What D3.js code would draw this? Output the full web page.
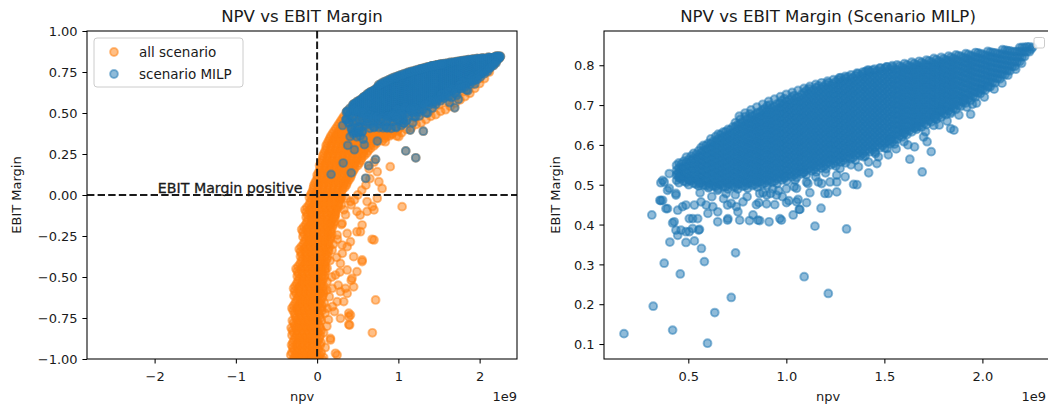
<!DOCTYPE html>
<html>
<head>
<meta charset="utf-8">
<script src="https://cdn.jsdelivr.net/npm/d3@7"></script>
<style>
  body { margin: 0; background: #fff; }
  svg { display: block; }
  text { font-family: "DejaVu Sans", sans-serif; fill: #1a1a1a; }
</style>
</head>
<body>
<svg id="chart" width="1048" height="408"></svg>
<script>
// NPV is stored in units of 1e9; EBIT margin as a fraction.

// MILP scenarios, dense core: [npv, [margins...]]
const milpCloud = [
  [0.44,[0.511,0.524,0.536,0.549]],
  [0.465,[0.515,0.527,0.540,0.552]],
  [0.49,[0.506,0.519,0.531,0.544,0.556,0.569]],
  [0.515,[0.510,0.522,0.535,0.547,0.560,0.572]],
  [0.54,[0.501,0.514,0.526,0.539,0.551,0.564,0.576]],
  [0.565,[0.505,0.518,0.530,0.543,0.555,0.568,0.580,0.593]],
  [0.59,[0.498,0.511,0.523,0.536,0.548,0.561,0.573,0.586,0.598]],
  [0.615,[0.503,0.516,0.528,0.541,0.553,0.566,0.578,0.591,0.603,0.615]],
  [0.64,[0.496,0.508,0.521,0.533,0.546,0.558,0.571,0.583,0.596,0.608,0.621]],
  [0.665,[0.501,0.513,0.526,0.538,0.551,0.563,0.576,0.588,0.601,0.613,0.626]],
  [0.69,[0.495,0.508,0.520,0.533,0.545,0.558,0.570,0.583,0.595,0.608,0.620,0.633]],
  [0.715,[0.501,0.513,0.526,0.538,0.551,0.563,0.576,0.588,0.601,0.613,0.626,0.638]],
  [0.74,[0.495,0.508,0.520,0.533,0.545,0.558,0.570,0.583,0.595,0.608,0.620,0.633,0.645,0.656]],
  [0.765,[0.502,0.514,0.527,0.539,0.552,0.564,0.577,0.589,0.602,0.614,0.627,0.639,0.652,0.664]],
  [0.79,[0.497,0.509,0.522,0.534,0.547,0.559,0.572,0.584,0.597,0.609,0.622,0.634,0.647,0.659,0.671]],
  [0.815,[0.504,0.516,0.529,0.541,0.554,0.566,0.579,0.591,0.604,0.616,0.629,0.641,0.654,0.666,0.678]],
  [0.84,[0.500,0.512,0.525,0.537,0.550,0.562,0.575,0.587,0.600,0.612,0.625,0.637,0.650,0.662,0.675]],
  [0.865,[0.507,0.520,0.532,0.545,0.557,0.570,0.582,0.595,0.607,0.620,0.632,0.645,0.657,0.670,0.682]],
  [0.89,[0.504,0.516,0.529,0.541,0.554,0.566,0.579,0.591,0.604,0.616,0.629,0.641,0.654,0.666,0.679,0.691]],
  [0.915,[0.512,0.525,0.537,0.550,0.562,0.575,0.587,0.600,0.612,0.625,0.637,0.650,0.662,0.675,0.687,0.700]],
  [0.94,[0.509,0.521,0.534,0.546,0.559,0.571,0.584,0.596,0.609,0.621,0.634,0.646,0.659,0.671,0.684,0.696]],
  [0.965,[0.518,0.530,0.543,0.555,0.568,0.580,0.593,0.605,0.618,0.630,0.643,0.655,0.668,0.680,0.693,0.705]],
  [0.99,[0.516,0.528,0.541,0.553,0.566,0.578,0.591,0.603,0.616,0.628,0.641,0.653,0.666,0.678,0.691,0.703,0.716]],
  [1.015,[0.526,0.538,0.551,0.563,0.576,0.588,0.601,0.613,0.626,0.638,0.651,0.663,0.676,0.688,0.701,0.713]],
  [1.04,[0.524,0.536,0.549,0.561,0.574,0.586,0.599,0.611,0.624,0.636,0.649,0.661,0.674,0.686,0.699,0.711,0.724]],
  [1.065,[0.533,0.545,0.558,0.570,0.583,0.595,0.608,0.620,0.633,0.645,0.658,0.670,0.683,0.695,0.708,0.720]],
  [1.09,[0.531,0.543,0.556,0.568,0.581,0.593,0.606,0.618,0.631,0.643,0.656,0.668,0.681,0.693,0.706,0.718,0.731]],
  [1.115,[0.541,0.553,0.566,0.578,0.591,0.603,0.616,0.628,0.641,0.653,0.666,0.678,0.691,0.703,0.716,0.728,0.741]],
  [1.14,[0.538,0.550,0.563,0.575,0.588,0.600,0.613,0.625,0.638,0.650,0.663,0.675,0.688,0.700,0.713,0.725,0.738]],
  [1.165,[0.548,0.560,0.573,0.585,0.598,0.610,0.623,0.635,0.648,0.660,0.673,0.685,0.698,0.710,0.723,0.735,0.748]],
  [1.19,[0.546,0.558,0.571,0.583,0.596,0.608,0.621,0.633,0.646,0.658,0.671,0.683,0.696,0.708,0.721,0.733,0.746]],
  [1.215,[0.556,0.568,0.581,0.593,0.606,0.618,0.631,0.643,0.656,0.668,0.681,0.693,0.706,0.718,0.731,0.743,0.756]],
  [1.24,[0.553,0.565,0.578,0.590,0.603,0.615,0.628,0.640,0.653,0.665,0.678,0.690,0.703,0.715,0.728,0.740,0.753]],
  [1.265,[0.563,0.575,0.588,0.600,0.613,0.625,0.638,0.650,0.663,0.675,0.688,0.700,0.713,0.725,0.738,0.750,0.763]],
  [1.29,[0.561,0.573,0.586,0.598,0.611,0.623,0.636,0.648,0.661,0.673,0.686,0.698,0.711,0.723,0.736,0.748,0.761]],
  [1.315,[0.571,0.583,0.596,0.608,0.621,0.633,0.646,0.658,0.671,0.683,0.696,0.708,0.721,0.733,0.746,0.758,0.771]],
  [1.34,[0.568,0.580,0.593,0.605,0.618,0.630,0.643,0.655,0.668,0.680,0.693,0.705,0.718,0.730,0.743,0.755,0.768]],
  [1.365,[0.579,0.591,0.604,0.616,0.629,0.641,0.654,0.666,0.679,0.691,0.704,0.716,0.729,0.741,0.754,0.766,0.779]],
  [1.39,[0.578,0.590,0.603,0.615,0.628,0.640,0.653,0.665,0.678,0.690,0.703,0.715,0.728,0.740,0.753,0.765,0.778]],
  [1.415,[0.589,0.601,0.614,0.626,0.639,0.651,0.664,0.676,0.689,0.701,0.714,0.726,0.739,0.751,0.764,0.776,0.788]],
  [1.44,[0.588,0.600,0.613,0.625,0.638,0.650,0.663,0.675,0.688,0.700,0.713,0.725,0.738,0.750,0.763,0.775,0.788]],
  [1.465,[0.599,0.611,0.624,0.636,0.649,0.661,0.674,0.686,0.699,0.711,0.724,0.736,0.749,0.761,0.774,0.786]],
  [1.49,[0.598,0.610,0.623,0.635,0.648,0.660,0.673,0.685,0.698,0.710,0.723,0.735,0.748,0.760,0.773,0.785]],
  [1.515,[0.609,0.621,0.634,0.646,0.659,0.671,0.684,0.696,0.709,0.721,0.734,0.746,0.759,0.771,0.784,0.796]],
  [1.54,[0.608,0.620,0.633,0.645,0.658,0.670,0.683,0.695,0.708,0.720,0.733,0.745,0.758,0.770,0.783,0.795]],
  [1.565,[0.614,0.626,0.639,0.651,0.664,0.676,0.689,0.701,0.714,0.726,0.739,0.751,0.764,0.776,0.789,0.801]],
  [1.59,[0.620,0.632,0.645,0.657,0.670,0.682,0.695,0.707,0.720,0.732,0.745,0.757,0.770,0.782,0.795]],
  [1.615,[0.626,0.638,0.651,0.663,0.676,0.688,0.701,0.713,0.726,0.738,0.751,0.763,0.776,0.788,0.801]],
  [1.64,[0.633,0.645,0.658,0.670,0.683,0.695,0.708,0.720,0.733,0.745,0.758,0.770,0.783,0.795,0.808]],
  [1.665,[0.639,0.651,0.664,0.676,0.689,0.701,0.714,0.726,0.739,0.751,0.764,0.776,0.789,0.801]],
  [1.69,[0.645,0.657,0.670,0.682,0.695,0.707,0.720,0.732,0.745,0.757,0.770,0.782,0.795,0.807]],
  [1.715,[0.651,0.663,0.676,0.688,0.701,0.713,0.726,0.738,0.751,0.763,0.776,0.788,0.801,0.813]],
  [1.74,[0.658,0.670,0.683,0.695,0.708,0.720,0.733,0.745,0.758,0.770,0.783,0.795,0.808]],
  [1.765,[0.664,0.676,0.689,0.701,0.714,0.726,0.739,0.751,0.764,0.776,0.789,0.801,0.814]],
  [1.79,[0.670,0.682,0.695,0.707,0.720,0.732,0.745,0.757,0.770,0.782,0.795,0.807,0.820]],
  [1.815,[0.676,0.688,0.701,0.713,0.726,0.738,0.751,0.763,0.776,0.788,0.801,0.813]],
  [1.84,[0.683,0.695,0.708,0.720,0.733,0.745,0.758,0.770,0.783,0.795,0.808,0.820]],
  [1.865,[0.689,0.701,0.714,0.726,0.739,0.751,0.764,0.776,0.789,0.801,0.814,0.826]],
  [1.89,[0.697,0.709,0.722,0.734,0.747,0.759,0.772,0.784,0.797,0.809,0.822]],
  [1.915,[0.705,0.717,0.730,0.742,0.755,0.767,0.780,0.792,0.805,0.817,0.829]],
  [1.94,[0.712,0.724,0.737,0.749,0.762,0.774,0.787,0.799,0.812,0.824]],
  [1.965,[0.720,0.732,0.745,0.757,0.770,0.782,0.795,0.807,0.820,0.832]],
  [1.99,[0.729,0.741,0.754,0.766,0.779,0.791,0.804,0.816,0.829]],
  [2.015,[0.738,0.750,0.763,0.775,0.788,0.800,0.813,0.825]],
  [2.04,[0.746,0.758,0.771,0.783,0.796,0.808,0.821,0.833]],
  [2.065,[0.756,0.768,0.781,0.793,0.806,0.818,0.831]],
  [2.09,[0.766,0.778,0.791,0.803,0.816,0.828]],
  [2.115,[0.776,0.788,0.801,0.813,0.826,0.838]],
  [2.14,[0.786,0.798,0.811,0.823,0.836]],
  [2.165,[0.797,0.809,0.822,0.834]],
  [2.19,[0.809,0.821,0.834,0.844]],
  [2.215,[0.822,0.834,0.845]],
  [2.24,[0.834,0.846]],
  [2.256,[0.845]]
];

// MILP scenarios, dense core, in-between runs: [npv, [margins...]]
const milpCloudB = [
  [0.4525,[0.505,0.517,0.530,0.542,0.555]],
  [0.4775,[0.509,0.521,0.534,0.546,0.559]],
  [0.5025,[0.500,0.513,0.525,0.538,0.550,0.563]],
  [0.5275,[0.504,0.516,0.529,0.541,0.554,0.566,0.579]],
  [0.5525,[0.497,0.510,0.522,0.535,0.547,0.560,0.572,0.585]],
  [0.5775,[0.499,0.511,0.524,0.536,0.549,0.561,0.574,0.586,0.599]],
  [0.6025,[0.492,0.504,0.517,0.529,0.542,0.554,0.567,0.579,0.592,0.604]],
  [0.6275,[0.497,0.509,0.522,0.534,0.547,0.559,0.572,0.584,0.597,0.609]],
  [0.6525,[0.490,0.502,0.515,0.527,0.540,0.552,0.565,0.577,0.590,0.602,0.615,0.627]],
  [0.6775,[0.495,0.507,0.520,0.532,0.545,0.557,0.570,0.582,0.595,0.607,0.620,0.632]],
  [0.7025,[0.489,0.501,0.514,0.526,0.539,0.551,0.564,0.576,0.589,0.601,0.614,0.626,0.639]],
  [0.7275,[0.495,0.507,0.520,0.532,0.545,0.557,0.570,0.582,0.595,0.607,0.620,0.632,0.645]],
  [0.7525,[0.489,0.501,0.514,0.526,0.539,0.551,0.564,0.576,0.589,0.601,0.614,0.626,0.639,0.651]],
  [0.7775,[0.496,0.508,0.521,0.533,0.546,0.558,0.571,0.583,0.596,0.608,0.621,0.633,0.646,0.658]],
  [0.8025,[0.491,0.503,0.516,0.528,0.541,0.553,0.566,0.578,0.591,0.603,0.616,0.628,0.641,0.653,0.666]],
  [0.8275,[0.498,0.510,0.523,0.535,0.548,0.560,0.573,0.585,0.598,0.610,0.623,0.635,0.648,0.660,0.673]],
  [0.8525,[0.494,0.506,0.519,0.531,0.544,0.556,0.569,0.581,0.594,0.606,0.619,0.631,0.644,0.656,0.669,0.681]],
  [0.8775,[0.501,0.513,0.526,0.538,0.551,0.563,0.576,0.588,0.601,0.613,0.626,0.638,0.651,0.663,0.676,0.688]],
  [0.9025,[0.498,0.510,0.523,0.535,0.548,0.560,0.573,0.585,0.598,0.610,0.623,0.635,0.648,0.660,0.673,0.685,0.698]],
  [0.9275,[0.506,0.518,0.531,0.543,0.556,0.568,0.581,0.593,0.606,0.618,0.631,0.643,0.656,0.668,0.681,0.693]],
  [0.9525,[0.503,0.515,0.528,0.540,0.553,0.565,0.578,0.590,0.603,0.615,0.628,0.640,0.653,0.665,0.678,0.690,0.703]],
  [0.9775,[0.512,0.524,0.537,0.549,0.562,0.574,0.587,0.599,0.612,0.624,0.637,0.649,0.662,0.674,0.687,0.699,0.711]],
  [1.0025,[0.510,0.522,0.535,0.547,0.560,0.572,0.585,0.597,0.610,0.622,0.635,0.647,0.660,0.672,0.685,0.697,0.710]],
  [1.0275,[0.520,0.532,0.545,0.557,0.570,0.582,0.595,0.607,0.620,0.632,0.645,0.657,0.670,0.682,0.695,0.707,0.720]],
  [1.0525,[0.518,0.530,0.543,0.555,0.568,0.580,0.593,0.605,0.618,0.630,0.643,0.655,0.668,0.680,0.693,0.705,0.718]],
  [1.0775,[0.527,0.539,0.552,0.564,0.577,0.589,0.602,0.614,0.627,0.639,0.652,0.664,0.677,0.689,0.702,0.714,0.727]],
  [1.1025,[0.525,0.537,0.550,0.562,0.575,0.587,0.600,0.612,0.625,0.637,0.650,0.662,0.675,0.687,0.700,0.712,0.725,0.737]],
  [1.1275,[0.535,0.547,0.560,0.572,0.585,0.597,0.610,0.622,0.635,0.647,0.660,0.672,0.685,0.697,0.710,0.722,0.735]],
  [1.1525,[0.532,0.544,0.557,0.569,0.582,0.594,0.607,0.619,0.632,0.644,0.657,0.669,0.682,0.694,0.707,0.719,0.732,0.744]],
  [1.1775,[0.542,0.554,0.567,0.579,0.592,0.604,0.617,0.629,0.642,0.654,0.667,0.679,0.692,0.704,0.717,0.729,0.742]],
  [1.2025,[0.540,0.552,0.565,0.577,0.590,0.602,0.615,0.627,0.640,0.652,0.665,0.677,0.690,0.702,0.715,0.727,0.740,0.752]],
  [1.2275,[0.550,0.562,0.575,0.587,0.600,0.612,0.625,0.637,0.650,0.662,0.675,0.687,0.700,0.712,0.725,0.737,0.750]],
  [1.2525,[0.547,0.559,0.572,0.584,0.597,0.609,0.622,0.634,0.647,0.659,0.672,0.684,0.697,0.709,0.722,0.734,0.747,0.759]],
  [1.2775,[0.557,0.569,0.582,0.594,0.607,0.619,0.632,0.644,0.657,0.669,0.682,0.694,0.707,0.719,0.732,0.744,0.757,0.769]],
  [1.3025,[0.555,0.567,0.580,0.592,0.605,0.617,0.630,0.642,0.655,0.667,0.680,0.692,0.705,0.717,0.730,0.742,0.755,0.767]],
  [1.3275,[0.565,0.577,0.590,0.602,0.615,0.627,0.640,0.652,0.665,0.677,0.690,0.702,0.715,0.727,0.740,0.752,0.765]],
  [1.3525,[0.562,0.574,0.587,0.599,0.612,0.624,0.637,0.649,0.662,0.674,0.687,0.699,0.712,0.724,0.737,0.749,0.762,0.774]],
  [1.3775,[0.573,0.585,0.598,0.610,0.623,0.635,0.648,0.660,0.673,0.685,0.698,0.710,0.723,0.735,0.748,0.760,0.773]],
  [1.4025,[0.572,0.584,0.597,0.609,0.622,0.634,0.647,0.659,0.672,0.684,0.697,0.709,0.722,0.734,0.747,0.759,0.772,0.784]],
  [1.4275,[0.583,0.595,0.608,0.620,0.633,0.645,0.658,0.670,0.683,0.695,0.708,0.720,0.733,0.745,0.758,0.770,0.783]],
  [1.4525,[0.582,0.594,0.607,0.619,0.632,0.644,0.657,0.669,0.682,0.694,0.707,0.719,0.732,0.744,0.757,0.769,0.782]],
  [1.4775,[0.593,0.605,0.618,0.630,0.643,0.655,0.668,0.680,0.693,0.705,0.718,0.730,0.743,0.755,0.768,0.780,0.793]],
  [1.5025,[0.592,0.604,0.617,0.629,0.642,0.654,0.667,0.679,0.692,0.704,0.717,0.729,0.742,0.754,0.767,0.779,0.792]],
  [1.5275,[0.603,0.615,0.628,0.640,0.653,0.665,0.678,0.690,0.703,0.715,0.728,0.740,0.753,0.765,0.778,0.790]],
  [1.5525,[0.602,0.614,0.627,0.639,0.652,0.664,0.677,0.689,0.702,0.714,0.727,0.739,0.752,0.764,0.777,0.789]],
  [1.5775,[0.623,0.635,0.648,0.660,0.673,0.685,0.698,0.710,0.723,0.735,0.748,0.760,0.773,0.785,0.798]],
  [1.6025,[0.629,0.641,0.654,0.666,0.679,0.691,0.704,0.716,0.729,0.741,0.754,0.766,0.779,0.791,0.804]],
  [1.6275,[0.636,0.648,0.661,0.673,0.686,0.698,0.711,0.723,0.736,0.748,0.761,0.773,0.786,0.798]],
  [1.6525,[0.642,0.654,0.667,0.679,0.692,0.704,0.717,0.729,0.742,0.754,0.767,0.779,0.792,0.804]],
  [1.6775,[0.648,0.660,0.673,0.685,0.698,0.710,0.723,0.735,0.748,0.760,0.773,0.785,0.798,0.810]],
  [1.7025,[0.654,0.666,0.679,0.691,0.704,0.716,0.729,0.741,0.754,0.766,0.779,0.791,0.804]],
  [1.7275,[0.661,0.673,0.686,0.698,0.711,0.723,0.736,0.748,0.761,0.773,0.786,0.798,0.811]],
  [1.7525,[0.667,0.679,0.692,0.704,0.717,0.729,0.742,0.754,0.767,0.779,0.792,0.804,0.817]],
  [1.7775,[0.673,0.685,0.698,0.710,0.723,0.735,0.748,0.760,0.773,0.785,0.798,0.810]],
  [1.8025,[0.679,0.691,0.704,0.716,0.729,0.741,0.754,0.766,0.779,0.791,0.804,0.816]],
  [1.8275,[0.686,0.698,0.711,0.723,0.736,0.748,0.761,0.773,0.786,0.798,0.811,0.823]],
  [1.8525,[0.692,0.704,0.717,0.729,0.742,0.754,0.767,0.779,0.792,0.804,0.817]],
  [1.8775,[0.699,0.711,0.724,0.736,0.749,0.761,0.774,0.786,0.799,0.811,0.824]],
  [1.9025,[0.707,0.719,0.732,0.744,0.757,0.769,0.782,0.794,0.807,0.819]],
  [1.9275,[0.715,0.727,0.740,0.752,0.765,0.777,0.790,0.802,0.815,0.827]],
  [1.9525,[0.722,0.734,0.747,0.759,0.772,0.784,0.797,0.809,0.822]],
  [1.9775,[0.731,0.743,0.756,0.768,0.781,0.793,0.806,0.818,0.831]],
  [2.0025,[0.740,0.752,0.765,0.777,0.790,0.802,0.815,0.827]],
  [2.0275,[0.748,0.760,0.773,0.785,0.798,0.810,0.823,0.835]],
  [2.0525,[0.757,0.769,0.782,0.794,0.807,0.819,0.832]],
  [2.0775,[0.767,0.779,0.792,0.804,0.817,0.829]],
  [2.1025,[0.777,0.789,0.802,0.814,0.827,0.839]],
  [2.1275,[0.787,0.799,0.812,0.824,0.837]],
  [2.1525,[0.797,0.809,0.822,0.834]],
  [2.1775,[0.809,0.821,0.834]],
  [2.2025,[0.821,0.833,0.845]],
  [2.2275,[0.834,0.846]],
  [2.2475,[0.840]]
];

// MILP scenarios along the upper rim of the core: [npv, margin]
const milpRim = [
  [0.76,0.672],[0.79,0.680],[0.82,0.688],[0.85,0.695],[0.88,0.702],[0.91,0.709],
  [0.94,0.715],[0.97,0.721],[1.00,0.727],[1.03,0.732],[1.06,0.737],[1.09,0.742],
  [1.12,0.747],[1.15,0.752],[1.18,0.756],[1.21,0.760],[1.24,0.764],[1.27,0.768],
  [1.30,0.772],[1.33,0.776],[1.36,0.780],[1.39,0.783],[1.42,0.787],[1.45,0.790],
  [1.48,0.793],[1.51,0.796],[1.54,0.799]
];

// MILP scenarios lying below the core: [npv, margin]
const milpScatter = [
  [0.172,0.126],[0.321,0.195],[0.42,0.135],[0.598,0.102],[0.635,0.179],[0.719,0.217],
  [0.459,0.276],[0.377,0.303],[0.582,0.307],[0.741,0.329],[0.567,0.340],[0.406,0.356],
  [0.488,0.355],[0.531,0.359],[0.446,0.373],[0.505,0.382],[0.553,0.386],[0.42,0.404],
  [0.437,0.386],[1.091,0.269],[1.214,0.227],[1.146,0.396],[1.307,0.389],[1.177,0.441],
  [1.36,0.50],[0.314,0.424],[0.36,0.46],[0.394,0.44],[0.522,0.415],[0.548,0.415],
  [0.65,0.407],[0.70,0.411],[0.762,0.411],[0.855,0.411],[0.912,0.407],[0.967,0.415],
  [1.035,0.424],[1.066,0.438],[1.013,0.46],[1.06,0.463],[0.488,0.449],[0.446,0.436],
  [0.745,0.445],[0.753,0.432],[0.864,0.478],[0.90,0.474],[0.95,0.474],[0.70,0.449],
  [0.83,0.424],[0.65,0.432],[0.60,0.428],[1.11,0.503],[1.18,0.503],[1.257,0.507],
  [1.214,0.478],[1.257,0.482],[1.693,0.532],[1.63,0.564],[1.343,0.501],[1.739,0.583],
  [1.654,0.595],[1.514,0.591],[1.718,0.608],[1.838,0.641],[1.855,0.637],[1.94,0.677],
  [1.949,0.702],[1.906,0.712],[1.838,0.679],[1.787,0.687],[1.761,0.67],[1.368,0.545],
  [1.419,0.557],[1.462,0.553],[1.454,0.578],[1.394,0.57],[1.53,0.612],[1.60,0.608],
  [1.60,0.629],[1.667,0.645],[1.71,0.633],[1.752,0.649],[1.99,0.737],[2.03,0.745],
  [1.274,0.541],[1.257,0.524],[1.223,0.507],[1.163,0.507],[1.197,0.478],[1.103,0.507],
  [1.044,0.511],[1.052,0.491],[0.992,0.52],[1.086,0.53],[0.36,0.505],[0.394,0.486],
  [0.437,0.478],[0.355,0.461],[0.386,0.44],[0.445,0.528],[0.377,0.507],[0.403,0.491],
  [0.369,0.461],[0.437,0.474],[0.428,0.407],[0.463,0.386],[0.488,0.382],[0.522,0.39],
  [0.557,0.388],[0.505,0.415],[0.471,0.445],[0.531,0.449],[0.565,0.457],[0.591,0.449],
  [0.625,0.445],[0.608,0.495],[0.65,0.486],[0.693,0.478],[0.719,0.453],[0.779,0.457],
  [0.702,0.415],[0.812,0.41],[0.864,0.41],[0.975,0.411],[1.069,0.438],[0.847,0.45],
  [0.899,0.452],[0.941,0.45],[1.001,0.455],[1.052,0.457],[1.103,0.455],[0.881,0.48],
  [0.92,0.478],[0.96,0.485],[1.0,0.49],[1.04,0.495],[0.403,0.528],[0.454,0.52],
  [0.505,0.511],[0.557,0.503],[0.369,0.511],[0.56,0.48],[0.62,0.47],[0.68,0.465],
  [0.74,0.475],[0.80,0.47],[0.86,0.455],[0.93,0.49],[0.98,0.47],[1.12,0.48],
  [1.15,0.52],[1.2,0.53],[1.3,0.52],[1.33,0.55],[1.42,0.53],[1.47,0.57],
  [1.52,0.575],[1.56,0.59],[1.62,0.6],[1.7,0.62],[1.78,0.65],[1.82,0.66],
  [1.88,0.675],[1.92,0.695],[1.97,0.705],[2.01,0.72],[2.06,0.74],[2.1,0.755],
  [2.13,0.775],[2.17,0.79],[2.2,0.805]
];

// Remaining scenarios, dense body: [margin, [npv...]]
const allCloud = [
  [-1.02,[-0.31,-0.25,-0.19,-0.13,-0.07,-0.01,0.05]],
  [-0.99,[-0.28,-0.22,-0.16,-0.10,-0.04,0.02,0.08]],
  [-0.96,[-0.31,-0.25,-0.19,-0.13,-0.07,-0.01,0.05]],
  [-0.93,[-0.30,-0.24,-0.18,-0.12,-0.06,0.0]],
  [-0.90,[-0.30,-0.24,-0.18,-0.12,-0.06,0.0,0.05]],
  [-0.87,[-0.27,-0.21,-0.15,-0.09,-0.03,0.03]],
  [-0.84,[-0.29,-0.23,-0.17,-0.11,-0.05,0.01]],
  [-0.81,[-0.32,-0.26,-0.20,-0.14,-0.08,-0.02,0.04]],
  [-0.78,[-0.29,-0.23,-0.17,-0.11,-0.05,0.01]],
  [-0.75,[-0.26,-0.20,-0.14,-0.08,-0.02,0.04]],
  [-0.72,[-0.28,-0.22,-0.16,-0.10,-0.04,0.02]],
  [-0.69,[-0.31,-0.25,-0.19,-0.13,-0.07,-0.01,0.05]],
  [-0.66,[-0.27,-0.21,-0.15,-0.09,-0.03,0.03]],
  [-0.63,[-0.24,-0.18,-0.12,-0.06,0.0,0.06]],
  [-0.60,[-0.26,-0.20,-0.14,-0.08,-0.02,0.04,0.08]],
  [-0.57,[-0.29,-0.23,-0.17,-0.11,-0.05,0.01,0.07]],
  [-0.54,[-0.25,-0.19,-0.13,-0.07,-0.01,0.05]],
  [-0.51,[-0.22,-0.16,-0.10,-0.04,0.02,0.08]],
  [-0.48,[-0.23,-0.17,-0.11,-0.05,0.01,0.07]],
  [-0.45,[-0.26,-0.20,-0.14,-0.08,-0.02,0.04,0.10]],
  [-0.42,[-0.21,-0.15,-0.09,-0.03,0.03,0.09]],
  [-0.39,[-0.18,-0.12,-0.06,0.0,0.06,0.12]],
  [-0.36,[-0.19,-0.13,-0.07,-0.01,0.05,0.11]],
  [-0.33,[-0.22,-0.16,-0.10,-0.04,0.02,0.08,0.14]],
  [-0.30,[-0.17,-0.11,-0.05,0.01,0.07,0.13]],
  [-0.27,[-0.14,-0.08,-0.02,0.04,0.10,0.16]],
  [-0.24,[-0.16,-0.10,-0.04,0.02,0.08,0.14]],
  [-0.21,[-0.19,-0.13,-0.07,-0.01,0.05,0.11,0.17]],
  [-0.18,[-0.14,-0.08,-0.02,0.04,0.10,0.16,0.20]],
  [-0.15,[-0.11,-0.05,0.01,0.07,0.13,0.19]],
  [-0.12,[-0.12,-0.06,0.0,0.06,0.12,0.18,0.22]],
  [-0.09,[-0.15,-0.09,-0.03,0.03,0.09,0.15,0.21,0.24]],
  [-0.06,[-0.10,-0.04,0.02,0.08,0.14,0.20,0.26]],
  [-0.03,[-0.07,-0.01,0.05,0.11,0.17,0.23,0.28]],
  [0.00,[-0.08,-0.02,0.04,0.10,0.16,0.22,0.28]],
  [0.03,[-0.05,0.01,0.07,0.13,0.19,0.25,0.31]],
  [0.06,[-0.04,0.02,0.08,0.14,0.20,0.26,0.32,0.36]],
  [0.09,[-0.01,0.05,0.11,0.17,0.23,0.29,0.35,0.39]],
  [0.12,[0.0,0.06,0.12,0.18,0.24,0.30,0.36,0.42]],
  [0.15,[0.03,0.09,0.15,0.21,0.27,0.33,0.39,0.45]],
  [0.18,[0.03,0.09,0.15,0.21,0.27,0.33,0.39,0.45,0.50]],
  [0.21,[0.06,0.12,0.18,0.24,0.30,0.36,0.42,0.48,0.54]],
  [0.24,[0.07,0.13,0.19,0.25,0.31,0.37,0.43,0.49,0.55,0.58]],
  [0.27,[0.10,0.16,0.22,0.28,0.34,0.40,0.46,0.52,0.58,0.63]],
  [0.30,[0.11,0.17,0.23,0.29,0.35,0.41,0.47,0.53,0.59,0.65,0.70]],
  [0.33,[0.14,0.20,0.26,0.32,0.38,0.44,0.50,0.56,0.62,0.68,0.74,0.80]],
  [0.36,[0.17,0.23,0.29,0.35,0.41,0.47,0.53,0.59,0.65,0.71,0.77,0.83,0.89]],
  [0.39,[0.21,0.27,0.33,0.39,0.45,0.51,0.57,0.63,0.69,0.75,0.81,0.87,0.93,0.99]],
  [0.42,[0.25,0.31,0.37,0.43,0.49,0.55,0.61,0.67,0.73,0.79,0.85,0.91,0.97,1.03]],
  [0.45,[0.29,0.35,0.41,0.47,0.53,0.59,0.65,0.71,0.77,0.83,0.89,0.95]],
  [0.48,[0.33,0.39,0.45,0.51,0.57,0.63]]
];

// Remaining scenarios, dense body, in-between rows: [margin, [npv...]]
const allCloudB = [
  [-1.005,[-0.295,-0.235,-0.175,-0.115,-0.055,0.005,0.065]],
  [-0.975,[-0.325,-0.265,-0.205,-0.145,-0.085,-0.025,0.035]],
  [-0.945,[-0.285,-0.225,-0.165,-0.105,-0.045,0.015]],
  [-0.915,[-0.315,-0.255,-0.195,-0.135,-0.075,-0.015,0.04]],
  [-0.885,[-0.285,-0.225,-0.165,-0.105,-0.045,0.015]],
  [-0.855,[-0.31,-0.25,-0.19,-0.13,-0.07,-0.01,0.04]],
  [-0.825,[-0.305,-0.245,-0.185,-0.125,-0.065,-0.005,0.05]],
  [-0.795,[-0.275,-0.215,-0.155,-0.095,-0.035,0.025]],
  [-0.765,[-0.305,-0.245,-0.185,-0.125,-0.065,-0.005,0.05]],
  [-0.735,[-0.27,-0.21,-0.15,-0.09,-0.03,0.03]],
  [-0.705,[-0.295,-0.235,-0.175,-0.115,-0.055,0.005,0.06]],
  [-0.675,[-0.29,-0.23,-0.17,-0.11,-0.05,0.01,0.06]],
  [-0.645,[-0.255,-0.195,-0.135,-0.075,-0.015,0.045]],
  [-0.615,[-0.285,-0.225,-0.165,-0.105,-0.045,0.015,0.07]],
  [-0.585,[-0.275,-0.215,-0.155,-0.095,-0.035,0.025,0.08]],
  [-0.555,[-0.27,-0.21,-0.15,-0.09,-0.03,0.03,0.08]],
  [-0.525,[-0.235,-0.175,-0.115,-0.055,0.005,0.065]],
  [-0.495,[-0.245,-0.185,-0.125,-0.065,-0.005,0.055,0.09]],
  [-0.465,[-0.245,-0.185,-0.125,-0.065,-0.005,0.055,0.10]],
  [-0.435,[-0.235,-0.175,-0.115,-0.055,0.005,0.065,0.10]],
  [-0.405,[-0.195,-0.135,-0.075,-0.015,0.045,0.105]],
  [-0.375,[-0.205,-0.145,-0.085,-0.025,0.035,0.095,0.13]],
  [-0.345,[-0.205,-0.145,-0.085,-0.025,0.035,0.095,0.14]],
  [-0.315,[-0.195,-0.135,-0.075,-0.015,0.045,0.105,0.15]],
  [-0.285,[-0.155,-0.095,-0.035,0.025,0.085,0.145]],
  [-0.255,[-0.175,-0.115,-0.055,0.005,0.065,0.125,0.17]],
  [-0.225,[-0.175,-0.115,-0.055,0.005,0.065,0.125,0.17]],
  [-0.195,[-0.165,-0.105,-0.045,0.015,0.075,0.135,0.19]],
  [-0.165,[-0.125,-0.065,-0.005,0.055,0.115,0.175,0.21]],
  [-0.135,[-0.135,-0.075,-0.015,0.045,0.105,0.165,0.21]],
  [-0.105,[-0.135,-0.075,-0.015,0.045,0.105,0.165,0.225]],
  [-0.075,[-0.125,-0.065,-0.005,0.055,0.115,0.175,0.235,0.26]],
  [-0.045,[-0.085,-0.025,0.035,0.095,0.155,0.215,0.27]],
  [-0.015,[-0.095,-0.035,0.025,0.085,0.145,0.205,0.265,0.30]],
  [0.015,[-0.065,-0.005,0.055,0.115,0.175,0.235,0.295]],
  [0.045,[-0.045,0.015,0.075,0.135,0.195,0.255,0.315,0.34]],
  [0.075,[-0.025,0.035,0.095,0.155,0.215,0.275,0.335,0.37]],
  [0.105,[0.01,0.07,0.13,0.19,0.25,0.31,0.37,0.41]],
  [0.135,[0.015,0.075,0.135,0.195,0.255,0.315,0.375,0.435]],
  [0.165,[0.045,0.105,0.165,0.225,0.285,0.345,0.405,0.465]],
  [0.195,[0.045,0.105,0.165,0.225,0.285,0.345,0.405,0.465,0.52]],
  [0.225,[0.075,0.135,0.195,0.255,0.315,0.375,0.435,0.495,0.55]],
  [0.255,[0.085,0.145,0.205,0.265,0.325,0.385,0.445,0.505,0.565,0.61]],
  [0.285,[0.115,0.175,0.235,0.295,0.355,0.415,0.475,0.535,0.595,0.66]],
  [0.315,[0.125,0.185,0.245,0.305,0.365,0.425,0.485,0.545,0.605,0.665,0.73]],
  [0.345,[0.155,0.215,0.275,0.335,0.395,0.455,0.515,0.575,0.635,0.695,0.755,0.83]],
  [0.375,[0.19,0.25,0.31,0.37,0.43,0.49,0.55,0.61,0.67,0.73,0.79,0.85,0.92]],
  [0.405,[0.23,0.29,0.35,0.41,0.47,0.53,0.59,0.65,0.71,0.77,0.83,0.89,0.95,1.01]],
  [0.435,[0.27,0.33,0.39,0.45,0.51,0.57,0.63,0.69,0.75,0.81,0.87,0.93,0.99]],
  [0.465,[0.31,0.37,0.43,0.49,0.55,0.61,0.67,0.73]]
];

// Remaining scenarios, scattered: [npv, margin]
const allScatter = [
  [0.246,-0.976],[0.164,-0.884],[0.40,-0.793],[0.39,-0.742],[0.287,-0.752],[0.213,-0.711],
  [0.123,-0.691],[0.328,-0.65],[0.246,-0.65],[0.287,-0.589],[0.349,-0.569],[0.185,-0.569],
  [0.123,-0.528],[0.226,-0.488],[0.37,-0.457],[0.49,-0.467],[0.43,-0.508],[0.287,-0.417],
  [0.123,-0.447],[0.45,-0.376],[0.185,-0.335],[0.308,-0.305],[0.41,-0.285],[0.554,-0.406],
  [0.246,-0.244],[0.37,-0.234],[0.49,-0.224],[0.554,-0.183],[0.308,-0.173],[0.164,-0.183],
  [0.70,-0.274],[0.68,-0.84],[0.72,-0.64],[0.41,-0.732],[0.53,-0.122],[0.615,-0.10],
  [0.68,-0.07],[0.49,-0.10],[0.33,-0.09],[0.226,-0.12],[0.615,-0.04],[0.74,-0.02],
  [0.287,-0.02],[0.41,-0.04],[1.046,-0.071],[0.39,-0.72],[0.39,-0.79],[0.164,-0.874],
  [0.226,-0.965],[0.554,-0.396],[0.677,-0.27],[0.533,-0.224],[0.70,-0.091],[0.90,0.173],
  [0.80,0.04],[0.76,0.081],[0.74,0.142],[0.84,0.325],[1.005,0.356],[0.45,-0.56],
  [0.37,-0.6],[0.42,-0.52],[0.31,-0.356],[0.37,-0.315],[0.10,-0.93],[0.12,-0.80],
  [0.10,-0.72],[0.15,-0.62],[0.12,-0.58],[0.18,-0.50],[0.16,-0.40],[0.20,-0.30],
  [0.25,-0.27],[0.22,-0.14],[0.30,-0.06],[0.36,-0.02],[0.09,-0.66],[0.08,-0.84],
  [0.14,-0.76],[0.19,-0.68],[0.26,-0.55],[0.24,-0.38],[0.28,-0.47],[0.18,-0.24],
  [0.30,-0.18],[0.35,-0.12],[0.42,-0.06],[0.46,-0.03],[0.50,0.0],[0.55,0.03],
  [0.60,0.06],[0.65,0.10],[0.70,0.20],[0.64,0.16],
  [0.55,0.38],[0.62,0.36],[0.68,0.38],[0.75,0.35],[0.80,0.37],[0.86,0.36],
  [0.92,0.37],[0.98,0.36],[1.04,0.38],[1.10,0.40],[1.16,0.41],[1.22,0.43],
  [1.28,0.44],[1.34,0.46],[1.40,0.48],[1.46,0.49],[1.52,0.51],[1.58,0.52],
  [1.64,0.54],[1.70,0.56],[1.76,0.58],[1.82,0.60],[1.88,0.62],[1.94,0.65],
  [2.00,0.68],[2.06,0.71],[2.12,0.75],[0.60,0.42],[0.70,0.42],[0.80,0.42],
  [0.90,0.42],[1.00,0.43],[1.10,0.45],[1.20,0.47],[1.30,0.50],[1.40,0.52],
  [1.50,0.55],[1.60,0.57],[1.70,0.60],[1.80,0.63],[1.90,0.67],[2.00,0.71],[2.10,0.76]
];

// Axis ticks
const leftXTicks = [-2, -1, 0, 1, 2];
const leftYTicks = [-1, -0.75, -0.5, -0.25, 0, 0.25, 0.5, 0.75, 1];
const rightXTicks = [0.5, 1.0, 1.5, 2.0];
const rightYTicks = [0.1, 0.2, 0.3, 0.4, 0.5, 0.6, 0.7, 0.8];

const BLUE = "#1f77b4", ORANGE = "#ff7f0e";
// marker: filled disc plus an edge of the same colour, both half transparent
const R = 3.9, EDGE = 1.96;

const byNpv = cols => cols.flatMap(([x, ys]) => ys.map(y => [x, y]));
const byMargin = rows => rows.flatMap(([y, xs]) => xs.map(x => [x, y]));

const milpPoints = byNpv(milpCloud).concat(byNpv(milpCloudB), milpRim, milpScatter);
// "all scenario" covers every scenario, including the MILP ones
const allPoints = byMargin(allCloud).concat(byMargin(allCloudB), allScatter, milpPoints);

const svg = d3.select("#chart");
const minus = s => s.replace("-", "\u2212");

function dots(sel, data, x, y, color) {
  sel.append("g").selectAll("circle").data(data).join("circle")
    .attr("cx", d => x(d[0])).attr("cy", d => y(d[1])).attr("r", R)
    .attr("fill", color).attr("fill-opacity", 0.5)
    .attr("stroke", color).attr("stroke-opacity", 0.5).attr("stroke-width", EDGE);
}

function panel(id, box, xDom, yDom, xTicks, yTicks, xFmt, yFmt) {
  const x = d3.scaleLinear().domain(xDom).range([box.l, box.r]);
  const y = d3.scaleLinear().domain(yDom).range([box.b, box.t]);
  svg.append("clipPath").attr("id", id)
    .append("rect").attr("x", box.l).attr("y", box.t)
    .attr("width", box.r - box.l).attr("height", box.b - box.t);
  const g = svg.append("g");
  const plot = g.append("g").attr("clip-path", `url(#${id})`);

  const xa = g.append("g").attr("transform", `translate(0,${box.b})`)
    .call(d3.axisBottom(x).tickValues(xTicks).tickFormat(d => minus(xFmt(d))).tickSize(4.6).tickSizeOuter(0));
  xa.selectAll("text").attr("y", 22.3).attr("dy", 0).attr("font-size", 13).attr("fill", "#1a1a1a");
  const ya = g.append("g").attr("transform", `translate(${box.l},0)`)
    .call(d3.axisLeft(y).tickValues(yTicks).tickFormat(d => minus(yFmt(d))).tickSize(4.6).tickSizeOuter(0));
  ya.selectAll("text").attr("x", -9.4).attr("dy", "0.36em").attr("font-size", 13).attr("fill", "#1a1a1a");
  g.selectAll(".domain").remove();
  g.selectAll(".tick line").attr("stroke", "#000").attr("stroke-width", 1.05);
  return { x, y, g, plot };
}

// Left panel: all scenarios with MILP overlay
const L = panel("clipL", { l: 87, r: 517, t: 31, b: 359 }, [-2.832, 2.46], [-1, 1],
  leftXTicks, leftYTicks, d3.format("d"), d3.format(".2f"));

dots(L.plot, allPoints, L.x, L.y, ORANGE);
dots(L.plot, milpPoints, L.x, L.y, BLUE);

// reference lines at zero
L.plot.append("line").attr("x1", L.x(0)).attr("x2", L.x(0)).attr("y1", 31).attr("y2", 359)
  .attr("stroke", "#1a1a1a").attr("stroke-width", 2).attr("stroke-dasharray", "7.4,3.2");
L.plot.append("line").attr("x1", 87).attr("x2", 517).attr("y1", L.y(0)).attr("y2", L.y(0))
  .attr("stroke", "#1a1a1a").attr("stroke-width", 2).attr("stroke-dasharray", "7.4,3.2");

L.g.append("text").attr("x", L.x(-1.96)).attr("y", L.y(0) - 2.5)
  .attr("font-size", 14.2).attr("stroke", "#1a1a1a").attr("stroke-width", 0.3)
  .text("EBIT Margin positive");

// Right panel: MILP scenarios only
const Rt = panel("clipR", { l: 604, r: 1052, t: 31, b: 359 }, [0.07, 2.355], [0.0624, 0.886],
  rightXTicks, rightYTicks, d3.format(".1f"), d3.format(".1f"));

dots(Rt.plot, milpPoints, Rt.x, Rt.y, BLUE);

// frames, titles, labels
[[87, 517, 517], [604, 1052, 1046]].forEach(([l, r, off], i) => {
  svg.append("rect").attr("x", l).attr("y", 31).attr("width", r - l).attr("height", 328)
    .attr("fill", "none").attr("stroke", "#000").attr("stroke-width", 1.05);
  svg.append("text").attr("x", (l + r) / 2).attr("y", 22).attr("text-anchor", "middle")
    .attr("font-size", 16.6).text(i === 0 ? "NPV vs EBIT Margin" : "NPV vs EBIT Margin (Scenario MILP)");
  svg.append("text").attr("x", (l + r) / 2).attr("y", 401).attr("text-anchor", "middle")
    .attr("font-size", 13).text("npv");
  svg.append("text").attr("x", off).attr("y", 400.5).attr("text-anchor", "end")
    .attr("font-size", 13).text("1e9");
  const yl = i === 0 ? 20.5 : 560;
  svg.append("text").attr("transform", `translate(${yl},${195}) rotate(-90)`)
    .attr("text-anchor", "middle").attr("font-size", 13).text("EBIT Margin");
});

// legend, left panel
const lg = svg.append("g");
lg.append("rect").attr("x", 94).attr("y", 38).attr("width", 149).attr("height", 49).attr("rx", 3)
  .attr("fill", "#fff").attr("fill-opacity", 0.8).attr("stroke", "#cccccc").attr("stroke-width", 1);
[["all scenario", ORANGE, 52], ["scenario MILP", BLUE, 74]].forEach(([t, c, yy]) => {
  lg.append("circle").attr("cx", 114).attr("cy", yy).attr("r", R).attr("fill", c).attr("fill-opacity", 0.5)
    .attr("stroke", c).attr("stroke-opacity", 0.5).attr("stroke-width", EDGE);
  lg.append("text").attr("x", 139).attr("y", yy + 4.7).attr("font-size", 13.5).text(t);
});

// empty legend frame, right panel
svg.append("rect").attr("x", 1034).attr("y", 37.5).attr("width", 10.5).attr("height", 10.5).attr("rx", 2)
  .attr("fill", "#fff").attr("fill-opacity", 0.8).attr("stroke", "#cccccc").attr("stroke-width", 1);
</script>
</body>
</html>
